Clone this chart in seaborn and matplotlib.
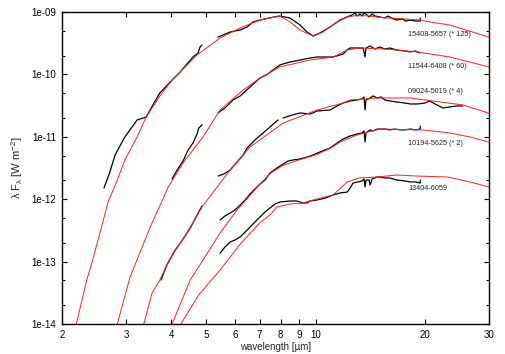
import pandas as pd
import matplotlib
matplotlib.use("Agg")
import matplotlib.pyplot as plt
import matplotlib.ticker as mticker
import seaborn as sns

# observed spectra (black) and model SEDs (red), wavelength in micron, flux in W m^-2
obs1a_wl = [2.61, 2.66, 2.71, 2.80, 2.98, 3.22, 3.41, 3.56, 3.72, 4.02, 4.23, 4.59, 4.74, 4.80, 4.86]
obs1a_fx = [1.51e-12, 2.03e-12, 2.73e-12, 5.11e-12, 9.93e-12, 1.86e-11, 2.07e-11, 3.24e-11, 5.04e-11,
            8.13e-11, 1.09e-10, 1.90e-10, 2.20e-10, 2.75e-10, 2.96e-10]
obs1b_wl = [5.38, 5.81, 6.19, 6.47, 6.72, 7.02, 7.67, 7.97, 8.49, 9.05, 9.46, 9.84, 10.27, 10.95, 11.67,
            12.2, 12.59, 12.83, 12.99, 13.24, 13.41, 13.58, 13.85, 14.02, 14.29, 14.56, 15.0, 15.5, 15.8,
            16.4, 16.7, 17.3, 17.7, 18.2, 18.8, 19.4, 19.4]
obs1b_fx = [3.97e-10, 4.78e-10, 5.15e-10, 5.75e-10, 6.92e-10, 7.44e-10, 8.32e-10, 8.63e-10, 8.01e-10,
            6.19e-10, 4.78e-10, 4.12e-10, 4.61e-10, 5.75e-10, 7.44e-10, 8.32e-10, 8.95e-10, 9.64e-10,
            8.63e-10, 9.29e-10, 8.63e-10, 9.64e-10, 8.95e-10, 8.32e-10, 9.29e-10, 8.63e-10, 8.32e-10,
            8.01e-10, 8.63e-10, 7.73e-10, 7.44e-10, 7.73e-10, 7.17e-10, 7.44e-10, 7.17e-10, 7.17e-10, 8.01e-10]
mod1_wl = [2.11, 2.19, 2.34, 2.43, 2.68, 2.84, 2.98, 3.22, 3.41, 3.72, 4.02, 4.23, 4.71, 5.45, 6.19,
           7.02, 7.97, 8.49, 9.05, 9.84, 10.47, 11.45, 12.2, 12.8, 13.85, 15.0, 16.0, 19.4, 20.6, 23.4,
           29.9, 31.2]
mod1_fx = [4.8e-15, 1.0e-14, 5.07e-14, 1.06e-13, 9.0e-13, 2.03e-12, 4.25e-12, 9.93e-12, 2.07e-11,
           4.5e-11, 8.13e-11, 1.09e-10, 2.05e-10, 3.83e-10, 5.55e-10, 7.44e-10, 8.63e-10, 6.92e-10,
           5.15e-10, 4.12e-10, 4.78e-10, 6.92e-10, 8.32e-10, 8.7e-10, 8.7e-10, 8.2e-10, 8.0e-10,
           7.44e-10, 6.92e-10, 6.19e-10, 3.97e-10, 3.69e-10]

obs2a_wl = [4.02, 4.15, 4.31, 4.45, 4.59, 4.71, 4.76, 4.86]
obs2a_fx = [2.11e-12, 2.94e-12, 4.09e-12, 6.14e-12, 7.96e-12, 1.11e-11, 1.38e-11, 1.55e-11]
obs2b_wl = [5.38, 5.62, 5.92, 6.19, 6.59, 7.02, 7.30, 7.63, 7.97, 8.49, 9.05, 9.65, 10.08, 11.16, 11.89,
            12.2, 12.43, 12.99, 13.50, 13.67, 13.75, 14.11, 14.56, 15.0, 15.5, 16.0, 16.7, 17.6, 18.2,
            18.8, 19.4]
obs2b_fx = [2.41e-11, 2.90e-11, 3.89e-11, 4.51e-11, 6.28e-11, 8.75e-11, 9.77e-11, 1.18e-10, 1.42e-10,
            1.58e-10, 1.70e-10, 1.83e-10, 1.90e-10, 1.90e-10, 2.12e-10, 2.46e-10, 2.65e-10, 2.65e-10,
            2.65e-10, 1.90e-10, 2.65e-10, 2.85e-10, 2.55e-10, 2.75e-10, 2.55e-10, 2.65e-10, 2.46e-10,
            2.37e-10, 2.29e-10, 2.37e-10, 2.20e-10]
mod2_wl = [2.76, 2.84, 3.08, 3.50, 3.93, 4.31, 4.89, 5.45, 6.31, 7.02, 7.97, 9.65, 11.2, 12.2, 13.2,
           15.5, 19.0, 23.4, 29.9, 31.2]
mod2_fx = [4.8e-15, 1.0e-14, 5.66e-14, 3.58e-13, 1.6e-12, 3.8e-12, 9.93e-12, 2.69e-11, 5.62e-11,
           8.75e-11, 1.32e-10, 1.70e-10, 1.90e-10, 2.46e-10, 2.65e-10, 2.55e-10, 2.29e-10, 1.90e-10,
           1.32e-10, 1.22e-10]

obs3a_wl = [3.75, 3.82, 3.89, 3.97, 4.10, 4.20, 4.31, 4.42, 4.51, 4.59, 4.68, 4.76, 4.86]
obs3a_fx = [5.07e-14, 6.81e-14, 8.83e-14, 1.10e-13, 1.53e-13, 1.85e-13, 2.30e-13, 2.87e-13, 3.45e-13,
            4.16e-13, 5.19e-13, 6.24e-13, 7.78e-13]
obs3b_wl = [5.38, 5.59, 5.81, 6.07, 6.31, 6.47, 6.80, 7.16, 7.48, 7.87]
obs3b_fx = [2.35e-12, 2.54e-12, 2.94e-12, 3.94e-12, 5.11e-12, 6.62e-12, 8.89e-12, 1.15e-11, 1.44e-11,
            1.86e-11]
obs3c_wl = [8.13, 8.60, 9.05, 9.65, 10.08, 10.95, 11.45, 11.89, 12.43, 12.99, 13.41, 13.58, 13.67, 13.75,
            14.11, 14.38, 14.75, 15.13, 15.5, 16.0, 16.7, 17.6, 18.2, 19.1, 20.0, 20.6, 21.3, 22.4, 23.4,
            24.5, 25.4]
obs3c_fx = [2.00e-11, 2.23e-11, 2.41e-11, 2.32e-11, 2.59e-11, 2.69e-11, 3.12e-11, 3.48e-11, 3.75e-11,
            3.89e-11, 4.04e-11, 4.35e-11, 2.69e-11, 3.89e-11, 4.19e-11, 4.51e-11, 4.19e-11, 4.35e-11,
            3.89e-11, 3.75e-11, 3.61e-11, 3.48e-11, 3.36e-11, 3.36e-11, 3.48e-11, 3.75e-11, 3.36e-11,
            2.90e-11, 3.01e-11, 3.12e-11, 3.12e-11]
mod3_wl = [3.28, 3.36, 3.54, 3.72, 3.89, 4.10, 4.31, 4.59, 4.86, 5.35, 5.81, 6.59, 8.13, 10.08, 11.89,
           12.43, 14.75, 18.2, 22.0, 25.4, 29.9, 31.2]
mod3_fx = [4.8e-15, 1.0e-14, 3.14e-14, 5.07e-14, 8.8e-14, 1.5e-13, 2.3e-13, 4.2e-13, 7.5e-13, 1.57e-12,
           2.94e-12, 6.87e-12, 1.66e-11, 2.69e-11, 3.48e-11, 3.89e-11, 4.19e-11, 4.19e-11, 3.61e-11,
           3.24e-11, 2.4e-11, 2.2e-11]

obs4_wl = [5.45, 5.62, 5.81, 5.99, 6.19, 6.39, 6.59, 6.80, 7.02, 7.25, 7.48, 7.82, 8.13, 8.39, 8.66,
           9.05, 9.46, 9.83, 10.27, 10.95, 11.45, 11.89, 12.43, 12.99, 13.41, 13.58, 13.67, 13.75, 14.11,
           14.38, 14.75, 15.5, 16.0, 16.5, 17.1, 17.6, 18.2, 18.8, 19.4, 19.4]
obs4_fx = [4.64e-13, 5.38e-13, 6.01e-13, 6.71e-13, 8.07e-13, 9.71e-13, 1.21e-12, 1.46e-12, 1.75e-12,
           2.03e-12, 2.63e-12, 3.16e-12, 3.66e-12, 4.09e-12, 4.25e-12, 4.41e-12, 4.74e-12, 5.11e-12,
           5.71e-12, 6.62e-12, 7.96e-12, 9.23e-12, 1.03e-11, 1.11e-11, 1.15e-11, 1.24e-11, 8.26e-12,
           1.15e-11, 1.29e-11, 1.24e-11, 1.33e-11, 1.33e-11, 1.29e-11, 1.33e-11, 1.29e-11, 1.29e-11,
           1.33e-11, 1.29e-11, 1.33e-11, 1.49e-11]
mod4_wl = [3.89, 4.02, 4.51, 4.89, 5.45, 6.07, 7.02, 7.5, 8.13, 9.05, 10.08, 11.0, 11.67, 12.99, 15.0,
           19.7, 23.4, 26.6, 29.9, 31.2]
mod4_fx = [4.8e-15, 1.0e-14, 5.07e-14, 1.06e-13, 2.87e-13, 6.71e-13, 1.75e-12, 2.6e-12, 3.5e-12,
           4.3e-12, 5.2e-12, 6.6e-12, 8.26e-12, 1.07e-11, 1.33e-11, 1.29e-11, 1.15e-11, 9.93e-12,
           8.26e-12, 7.67e-12]

obs5_wl = [5.45, 5.62, 5.81, 5.99, 6.19, 6.39, 6.59, 6.80, 7.02, 7.25, 7.48, 7.72, 7.97, 8.49, 8.88,
           9.05, 9.22, 9.46, 9.65, 10.08, 10.61, 11.16, 11.67, 12.2, 12.43, 12.67, 13.08, 13.41, 13.58,
           13.67, 13.75, 14.02, 14.11, 14.29, 14.75, 15.0, 15.5, 16.0, 16.7, 17.6, 18.2, 18.8, 19.4, 19.4]
obs5_fx = [1.37e-13, 1.71e-13, 2.06e-13, 2.22e-13, 2.48e-13, 2.98e-13, 3.58e-13, 4.31e-13, 5.19e-13,
           6.24e-13, 7.23e-13, 8.37e-13, 9.02e-13, 9.35e-13, 9.35e-13, 9.02e-13, 8.69e-13, 8.69e-13,
           9.35e-13, 9.71e-13, 1.04e-12, 1.17e-12, 1.26e-12, 1.30e-12, 1.51e-12, 1.82e-12, 1.89e-12,
           1.96e-12, 2.11e-12, 1.57e-12, 2.03e-12, 2.03e-12, 1.69e-12, 2.11e-12, 2.27e-12, 2.27e-12,
           2.19e-12, 2.19e-12, 2.03e-12, 1.96e-12, 1.89e-12, 1.89e-12, 1.82e-12, 2.03e-12]
mod5_wl = [4.15, 4.25, 4.76, 5.45, 6.19, 7.02, 7.48, 7.82, 8.49, 9.19, 10.08, 11.16, 12.2, 13.2, 14.75,
           16.7, 19.0, 23.0, 26.6, 29.9, 31.2]
mod5_fx = [4.8e-15, 1.0e-14, 2.92e-14, 7.33e-14, 1.9e-13, 4.2e-13, 5.6e-13, 7.5e-13, 8.37e-13, 8.69e-13,
           1.01e-12, 1.17e-12, 1.89e-12, 2.19e-12, 2.27e-12, 2.44e-12, 2.35e-12, 2.27e-12, 1.89e-12,
           1.57e-12, 1.46e-12]

names = ["15408-5657 (* 125)", "11544-6408 (* 60)", "09024-5019 (* 4)", "10194-5625 (* 2)", "13404-6059"]
name_wl = 18.0
name_fx = [4.28e-10, 1.32e-10, 5.23e-11, 7.67e-12, 1.46e-12]

xticks = [2, 3, 4, 5, 6, 7, 8, 9, 10, 20, 30]
yticks = [1e-14, 1e-13, 1e-12, 1e-11, 1e-10, 1e-9]
yminor = [2e-14, 5e-14, 2e-13, 5e-13, 2e-12, 5e-12, 2e-11, 5e-11, 2e-10, 5e-10]

obs_parts = [("1a", obs1a_wl, obs1a_fx), ("1b", obs1b_wl, obs1b_fx),
             ("2a", obs2a_wl, obs2a_fx), ("2b", obs2b_wl, obs2b_fx),
             ("3a", obs3a_wl, obs3a_fx), ("3b", obs3b_wl, obs3b_fx), ("3c", obs3c_wl, obs3c_fx),
             ("4", obs4_wl, obs4_fx), ("5", obs5_wl, obs5_fx)]
mod_parts = [("1", mod1_wl, mod1_fx), ("2", mod2_wl, mod2_fx), ("3", mod3_wl, mod3_fx),
             ("4", mod4_wl, mod4_fx), ("5", mod5_wl, mod5_fx)]

df_obs = pd.concat([pd.DataFrame({"wl": w, "flux": f, "seg": s}) for s, w, f in obs_parts])
df_mod = pd.concat([pd.DataFrame({"wl": w, "flux": f, "seg": s}) for s, w, f in mod_parts])

sns.set_style("ticks")
plt.rcParams["font.family"] = ["Liberation Sans", "DejaVu Sans"]
plt.rcParams["mathtext.fontset"] = "custom"
plt.rcParams["mathtext.rm"] = "Liberation Sans"
plt.rcParams["mathtext.it"] = "Liberation Sans"
plt.rcParams["mathtext.default"] = "regular"

fig = plt.figure(figsize=(5.06, 3.54), dpi=100)
ax = fig.add_axes([62 / 506, 1 - 324 / 354, (489 - 62) / 506, (324 - 12) / 354])
ax.set_xscale("log")
ax.set_yscale("log")

sns.lineplot(data=df_obs, x="wl", y="flux", units="seg", estimator=None, sort=False,
             color="black", lw=0.9, ax=ax)
sns.lineplot(data=df_mod, x="wl", y="flux", units="seg", estimator=None, sort=False,
             color="#ff2020", lw=0.7, ax=ax)

for name, fy in zip(names, name_fx):
    ax.text(name_wl, fy, name, fontsize=5.2, va="center", ha="left", color="#222222")

ax.set_xlim(2, 30)
ax.set_ylim(1e-14, 1e-9)
ax.xaxis.set_major_locator(mticker.FixedLocator(xticks))
ax.xaxis.set_major_formatter(mticker.FixedFormatter([str(t) for t in xticks]))
ax.xaxis.set_minor_locator(mticker.NullLocator())
ax.yaxis.set_major_locator(mticker.FixedLocator(yticks))
ax.yaxis.set_minor_locator(mticker.FixedLocator(yminor))
ax.yaxis.set_minor_formatter(mticker.NullFormatter())
ax.yaxis.set_major_formatter(mticker.FixedFormatter([f"{v:.0e}" for v in yticks]))

ax.tick_params(which="both", direction="in", top=True, right=True, labelsize=7, width=0.8,
               colors="black", pad=4)
ax.tick_params(which="major", length=3.5)
ax.tick_params(which="minor", length=2)
for sp in ax.spines.values():
    sp.set_linewidth(1.0)
    sp.set_color("black")

ax.set_xlabel("wavelength [µm]", fontsize=7, labelpad=2)
ax.set_ylabel(r"λ F$_{λ}$ [W m$^{-2}$]", fontsize=8, labelpad=5)

fig.savefig("out.png", dpi=100)
